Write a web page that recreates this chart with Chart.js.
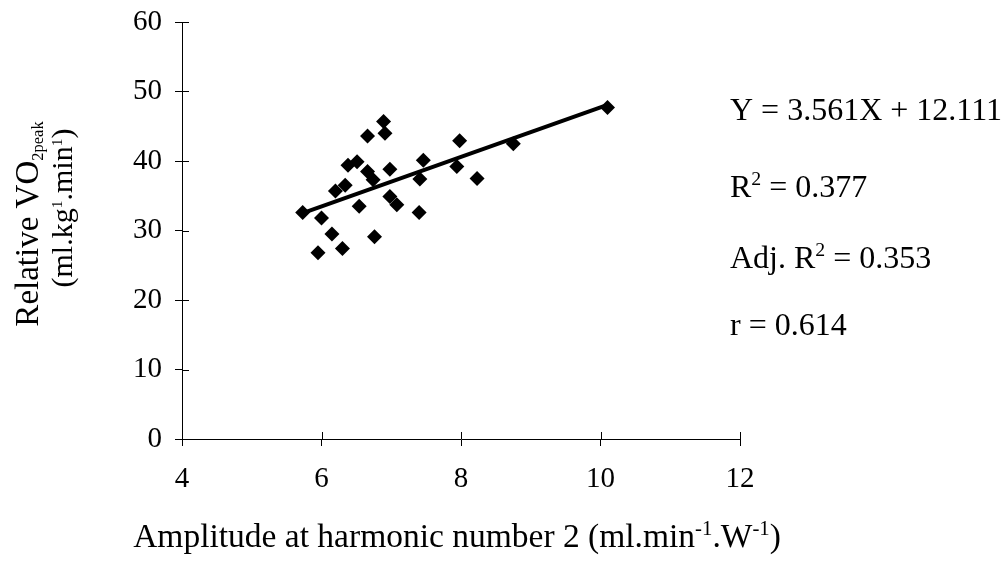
<!DOCTYPE html>
<html>
<head>
<meta charset="utf-8">
<script src="https://cdn.jsdelivr.net/npm/chart.js@4/dist/chart.umd.min.js"></script>
<style>
  html, body { margin: 0; padding: 0; background: #fff; }
  #wrap { width: 1006px; height: 564px; }
</style>
</head>
<body>
<div id="wrap"><canvas id="vo2Chart"></canvas></div>
<script>
// amplitude at harmonic 2 vs relative VO2peak, one point per subject
const amplitude = [5.73, 6.00, 6.15, 5.95, 6.30, 6.76, 6.54, 6.20, 6.34, 6.38,
                   6.51, 6.66, 6.74, 6.98, 6.98, 7.08, 6.66, 6.89, 6.91, 7.46,
                   7.41, 7.40, 7.98, 7.94, 8.23, 8.75, 10.10];
const vo2peak = [32.6, 31.8, 29.5, 26.8, 27.4, 29.1, 33.5, 35.7, 36.5, 39.4,
                 39.9, 38.5, 37.3, 38.8, 34.9, 33.7, 43.6, 45.7, 44.0, 40.1,
                 37.4, 32.6, 42.9, 39.2, 37.5, 42.5, 47.7];

// fitted line Y = slope * X + intercept
const slope = 3.561;
const intercept = 12.111;
const fitRange = [5.73, 10.10];

const xTicks = [4, 6, 8, 10, 12];
const yTicks = [0, 10, 20, 30, 40, 50, 60];

const statLines = [
  [{ t: 'Y = 3.561X + 12.111' }],
  [{ t: 'R' }, { t: '2', sup: true }, { t: ' = 0.377' }],
  [{ t: 'Adj. R' }, { t: '2', sup: true }, { t: ' = 0.353' }],
  [{ t: 'r = 0.614' }]
];

const SERIF = '"Liberation Serif", "DejaVu Serif", serif';

const points = amplitude.map((x, i) => ({ x: x, y: vo2peak[i] }));
const fitLine = fitRange.map(x => ({ x: x, y: slope * x + intercept }));

// draw a run of text pieces with sub/superscripts, starting at x
function pieceSize(p, size) {
  if (p.sub) return size * 0.5;
  if (p.sup) return size * (p.small ? 0.52 : 0.62);
  return size;
}

function richText(ctx, parts, x, y, size) {
  let cx = x;
  parts.forEach(p => {
    ctx.font = pieceSize(p, size) + 'px ' + SERIF;
    let dy = 0;
    if (p.sup) dy = -size * (p.small ? 0.33 : 0.36);
    if (p.sub) dy = size * 0.14;
    ctx.fillText(p.t, cx, y + dy);
    cx += ctx.measureText(p.t).width;
  });
  return cx - x;
}

function richWidth(ctx, parts, size) {
  let w = 0;
  parts.forEach(p => {
    ctx.font = pieceSize(p, size) + 'px ' + SERIF;
    w += ctx.measureText(p.t).width;
  });
  return w;
}

const textPlugin = {
  id: 'textPlugin',
  afterDraw(chart) {
    const ctx = chart.ctx;
    const xs = chart.scales.x, ys = chart.scales.y;
    ctx.save();
    ctx.fillStyle = '#000';
    ctx.strokeStyle = '#000';
    ctx.lineWidth = 1;
    ctx.textBaseline = 'alphabetic';
    ctx.textAlign = 'left';

    // inner half of the tick marks, so they cross the axis lines
    ctx.beginPath();
    yTicks.forEach(v => {
      const py = Math.round(ys.getPixelForValue(v)) + 0.5;
      ctx.moveTo(xs.left, py);
      ctx.lineTo(xs.left + 7, py);
    });
    xTicks.forEach(v => {
      const px = Math.round(xs.getPixelForValue(v)) + 0.5;
      ctx.moveTo(px, ys.bottom);
      ctx.lineTo(px, ys.bottom - 7);
    });
    ctx.stroke();

    // x axis title
    const xt = [{ t: 'Amplitude at harmonic number 2 (ml.min' }, { t: '-1', sup: true },
                { t: '.W' }, { t: '-1', sup: true }, { t: ')' }];
    const xw = richWidth(ctx, xt, 33.5);
    richText(ctx, xt, 457 - xw / 2, 547, 33.5);

    // y axis title, two rotated lines
    const y1 = [{ t: 'Relative VO' }, { t: '2peak', sub: true }];
    const y2 = [{ t: '(ml.kg' }, { t: '1', sup: true, small: true }, { t: '.min' },
                { t: '1', sup: true, small: true }, { t: ')' }];
    ctx.save();
    ctx.translate(38, 224);
    ctx.rotate(-Math.PI / 2);
    richText(ctx, y1, -richWidth(ctx, y1, 33) / 2, 0, 33);
    ctx.restore();
    ctx.save();
    ctx.translate(72, 208);
    ctx.rotate(-Math.PI / 2);
    richText(ctx, y2, -richWidth(ctx, y2, 30) / 2, 0, 30);
    ctx.restore();

    // regression statistics
    const baselines = [120, 197, 268, 335];
    statLines.forEach((line, i) => richText(ctx, line, 730, baselines[i], 32));
    ctx.restore();
  }
};

const ctx = document.getElementById('vo2Chart').getContext('2d');
const vo2Chart = new Chart(ctx, {
  type: 'scatter',
  data: {
    datasets: [{
      label: 'Subjects',
      data: points,
      pointStyle: 'rectRot',
      pointRadius: 7.5,
      backgroundColor: '#000',
      borderColor: '#000',
      borderWidth: 0,
      order: 1
    }, {
      type: 'line',
      label: 'Fit',
      data: fitLine,
      borderColor: '#000',
      borderWidth: 4,
      pointRadius: 0,
      fill: false,
      order: 2
    }]
  },
  options: {
    responsive: true,
    maintainAspectRatio: false,
    animation: false,
    layout: { padding: { left: 0, right: 266, top: 22, bottom: 0 } },
    plugins: {
      legend: { display: false },
      tooltip: { enabled: false }
    },
    scales: {
      x: {
        type: 'linear',
        min: 4,
        max: 12,
        afterBuildTicks: s => { s.ticks = xTicks.map(v => ({ value: v })); },
        afterFit: s => { s.height = 125; s.paddingLeft = 0; s.paddingRight = 0; },
        border: { display: true, color: '#000', width: 1 },
        grid: { display: true, drawOnChartArea: false, drawTicks: true, tickLength: 7, color: '#000' },
        ticks: { color: '#000', font: { family: SERIF, size: 29 }, padding: 16, maxRotation: 0 }
      },
      y: {
        type: 'linear',
        min: 0,
        max: 60,
        afterBuildTicks: s => { s.ticks = yTicks.map(v => ({ value: v })); },
        afterFit: s => { s.width = 182; s.paddingTop = 0; s.paddingBottom = 0; },
        border: { display: true, color: '#000', width: 1 },
        grid: { display: true, drawOnChartArea: false, drawTicks: true, tickLength: 7, color: '#000' },
        ticks: { color: '#000', font: { family: SERIF, size: 29 }, padding: 13 }
      }
    }
  },
  plugins: [textPlugin]
});
</script>
</body>
</html>
